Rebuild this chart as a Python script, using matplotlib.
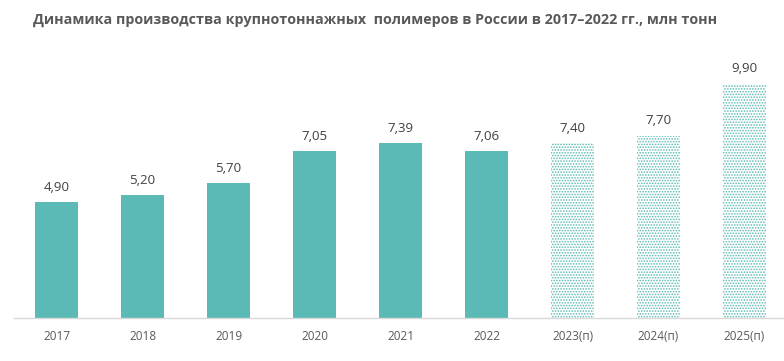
import matplotlib.pyplot as plt
import numpy as np

plt.rcParams['font.family'] = ['Open Sans', 'DejaVu Sans']

years = ['2017', '2018', '2019', '2020', '2021', '2022', '2023(п)', '2024(п)', '2025(п)']
values = [4.90, 5.20, 5.70, 7.05, 7.39, 7.06, 7.40, 7.70, 9.90]
forecast = [False, False, False, False, False, False, True, True, True]

TEAL = '#5BBAB5'
plt.rcParams['hatch.linewidth'] = 0.8
plt.rcParams['hatch.color'] = TEAL

fig = plt.figure(figsize=(7.84, 3.61), dpi=100)
ax = fig.add_axes([13.5 / 784, 43 / 361, 774 / 784, 258 / 361])

x = np.arange(len(years))
for xi, v, f in zip(x, values, forecast):
    if f:
        ax.bar(xi, v, width=0.5, facecolor='white', edgecolor=TEAL, hatch='......', linewidth=0)
    else:
        ax.bar(xi, v, width=0.5, color=TEAL)
    ax.text(xi, v + 0.35, f'{v:.2f}'.replace('.', ','), ha='center', va='bottom',
            fontsize=9.5, color='#404040')

ax.set_xlim(-0.5, len(years) - 0.5)
ax.set_ylim(0, 10.9)
ax.set_xticks(x)
ax.set_xticklabels(years, fontsize=8.5, color='#595959')
ax.tick_params(axis='x', length=0, pad=9)
ax.set_yticks([])
for s in ['top', 'right', 'left']:
    ax.spines[s].set_visible(False)
ax.spines['bottom'].set_color('#D9D9D9')
ax.spines['bottom'].set_linewidth(1)

fig.text(33 / 784, 1 - 20 / 361, 'Динамика производства крупнотоннажных  полимеров в России в 2017–2022 гг., млн тонн',
         fontsize=10.3, fontweight='bold', color='#595959', va='center', ha='left')

fig.savefig('out.png', dpi=100)
